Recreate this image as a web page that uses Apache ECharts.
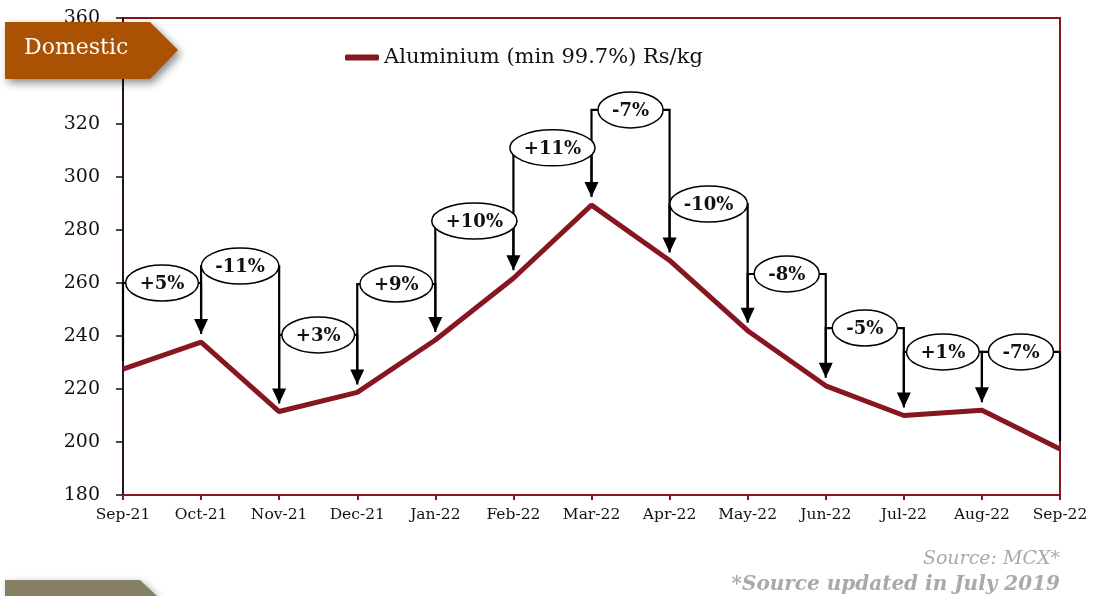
<!DOCTYPE html>
<html>
<head>
<meta charset="utf-8">
<script src="https://cdn.jsdelivr.net/npm/echarts@6/dist/echarts.min.js"></script>
<style>
  html, body { margin: 0; padding: 0; background: #fff; }
  #chart-panel { width: 1093px; height: 596px; }
</style>
</head>
<body>
<div id="chart-panel"></div>
<script>
/* 月份与价格 (Rs/kg). */
const months = ['Sep-21', 'Oct-21', 'Nov-21', 'Dec-21', 'Jan-22', 'Feb-22', 'Mar-22',
  'Apr-22', 'May-22', 'Jun-22', 'Jul-22', 'Aug-22', 'Sep-22']
const prices = [227.5, 237.7, 211.5, 218.7, 238.5, 261.8, 289.4, 268.5, 242, 221.2, 210, 212, 197.4]

/* 每段涨跌标注: 括号高度和文字. */
const bracketLevels = [260, 266.4, 240.4, 259.6, 283.4, 311, 325.3, 289.8, 263.4, 243, 234, 234]
const changeLabels = ['+5%', '-11%', '+3%', '+9%', '+10%', '+11%', '-7%', '-10%', '-8%', '-5%', '+1%', '-7%']

const yTicks = { min: 180, max: 360, step: 20 }

const serif = '"DejaVu Serif", "Liberation Serif", serif'
const lineColor = '#86161f'

! function () {
  let measure = document.createElement('canvas').getContext('2d')
  measure.font = 'bold 18px ' + serif

  function renderBracket(params, api) {
    let i = api.value(0)
    let level = api.value(1)
    let label = changeLabels[params.dataIndex]
    let p0 = api.coord([i, prices[i]])
    let p1 = api.coord([i + 1, prices[i + 1]])
    let top = api.coord([i, level])[1]
    let tipY = p1[1] - 8
    let isLast = i + 1 === prices.length - 1
    let head = 15

    let children = [{
      type: 'polyline',
      z2: 1,
      shape: { points: [[p0[0], p0[1] - 8], [p0[0], top], [p1[0], top], [p1[0], isLast ? tipY : tipY - head + 1]] },
      style: { stroke: '#000', lineWidth: 2.2, fill: null }
    }]
    if (!isLast) {
      children.push({
        type: 'polygon',
        z2: 2,
        shape: { points: [[p1[0] - 7, tipY - head], [p1[0] + 7, tipY - head], [p1[0], tipY]] },
        style: { fill: '#000' }
      })
    }
    let rx = measure.measureText(label).width / 2 + 14
    let cx = (p0[0] + p1[0]) / 2
    children.push({
      type: 'ellipse',
      z2: 10,
      shape: { cx: cx, cy: top, rx: rx, ry: 18 },
      style: { fill: '#fff', stroke: '#000', lineWidth: 1.5 }
    })
    children.push({
      type: 'text',
      z2: 11,
      x: cx,
      y: top + 1,
      style: {
        text: label, fill: '#111', font: 'bold 18px ' + serif,
        align: 'center', verticalAlign: 'middle'
      }
    })
    return { type: 'group', children: children }
  }

  let myChart = echarts.init(document.getElementById('chart-panel'))
  myChart.setOption({
    animation: false,
    grid: {
      left: 123, right: 33, top: 18, bottom: 101,
      show: true, borderColor: lineColor, borderWidth: 2
    },
    legend: {
      left: 340, top: 42,
      icon: 'roundRect',
      itemWidth: 34, itemHeight: 6,
      itemGap: 8,
      textStyle: { fontFamily: serif, fontSize: 21, color: '#111' },
      data: ['Aluminium (min 99.7%) Rs/kg']
    },
    xAxis: {
      type: 'category',
      data: months,
      boundaryGap: false,
      axisLine: { lineStyle: { color: lineColor, width: 2 } },
      axisTick: { interval: 0, lineStyle: { color: lineColor, width: 2 }, length: 5 },
      axisLabel: { interval: 0, hideOverlap: false, fontFamily: serif, fontSize: 15.5, color: '#111', margin: 12 },
      splitLine: { show: false }
    },
    yAxis: {
      type: 'value',
      min: yTicks.min, max: yTicks.max, interval: yTicks.step,
      axisLine: { show: true, lineStyle: { color: '#2a1416', width: 2 } },
      axisTick: { show: true, length: 7, lineStyle: { color: '#111', width: 1.5 } },
      axisLabel: { fontFamily: serif, fontSize: 19, color: '#111', margin: 23 },
      splitLine: { show: false }
    },
    series: [
      {
        name: 'Aluminium (min 99.7%) Rs/kg',
        type: 'line',
        data: prices,
        symbol: 'none',
        z: 3,
        lineStyle: { color: lineColor, width: 5 },
        itemStyle: { color: lineColor }
      },
      {
        type: 'custom',
        z: 4,
        data: bracketLevels.map(function (lv, idx) { return [idx, lv] }),
        encode: { x: 0, y: 1 },
        renderItem: renderBracket,
        silent: true
      }
    ],
    graphic: [
      {
        type: 'polygon',
        z: 100,
        shape: { points: [[5, 22], [150, 22], [178, 50], [150, 79], [5, 79]] },
        style: { fill: '#ab5103', shadowBlur: 8, shadowOffsetX: 3, shadowOffsetY: 4, shadowColor: 'rgba(0,0,0,0.45)' }
      },
      {
        type: 'text',
        z: 101,
        left: 24, top: 37,
        style: { text: 'Domestic', fill: '#fff', font: '22px ' + serif }
      },
      {
        type: 'polygon',
        z: 100,
        shape: { points: [[5, 580], [140, 580], [157, 596], [5, 596]] },
        style: { fill: '#857f66', shadowBlur: 8, shadowOffsetX: 3, shadowOffsetY: 3, shadowColor: 'rgba(0,0,0,0.35)' }
      },
      {
        type: 'text',
        z: 101,
        right: 33, top: 550,
        style: { text: 'Source: MCX*', fill: '#a9a9a9', font: 'italic 19px ' + serif }
      },
      {
        type: 'text',
        z: 101,
        right: 33, top: 575,
        style: { text: '*Source updated in July 2019', fill: '#a9a9a9', font: 'italic bold 20px ' + serif }
      }
    ]
  })
}()
</script>
</body>
</html>
